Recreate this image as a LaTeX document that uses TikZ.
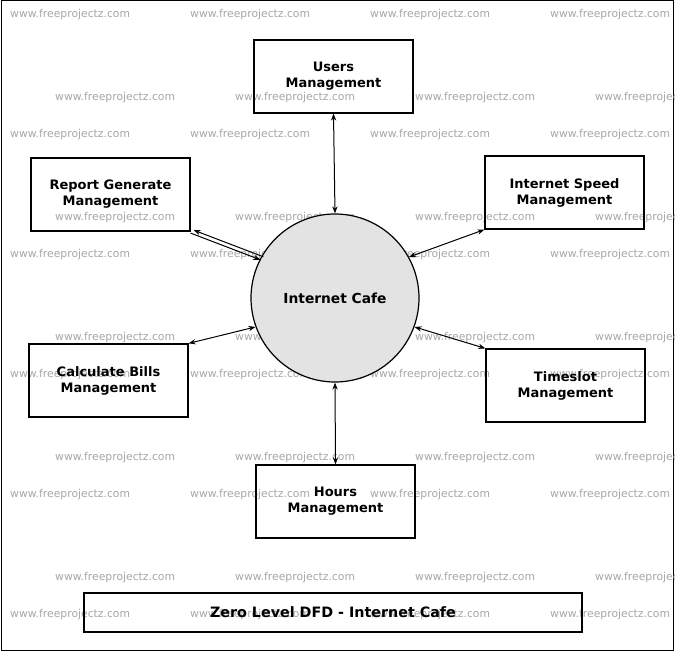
\documentclass[tikz,border=0pt]{standalone}
\usepackage{fontspec}
\setmainfont{DejaVu Sans}
\usetikzlibrary{arrows.meta}
\begin{document}
\begin{tikzpicture}[x=1pt,y=-1pt,
 box/.style={draw,line width=1.2pt,minimum width=159pt,minimum height=73pt,align=center,font=\bfseries\fontsize{13}{16}\selectfont},
 wm/.style={anchor=west,text=black!35,font=\fontsize{10.8}{12}\selectfont,inner sep=0pt},
 link/.style={line width=1pt,{Stealth[length=7pt]}-{Stealth[length=7pt]}}]
\useasboundingbox (0,0) rectangle (675,652);
\draw[line width=1pt] (1,1) rectangle (673,650);
\foreach \y in {15,135,255,375,495,615}{\foreach \x in {10,190,370,550}{\node[wm] at (\x,\y) {www.freeprojectz.com};}}
\foreach \y in {98,218,338,458,578}{\foreach \x in {55,235,415,595}{\node[wm] at (\x,\y) {www.freeprojectz.com};}}
\node[box] (users) at (333.5,76.5) {Users\\Management};
\node[box] (report) at (110.5,194.5) {Report Generate\\Management};
\node[box] (speed) at (564.5,192.5) {Internet Speed\\Management};
\node[box] (bills) at (108.5,380.5) {Calculate Bills\\Management};
\node[box] (slot) at (565.5,385.5) {Timeslot\\Management};
\node[box] (hours) at (335.5,501.5) {Hours\\Management};
\node[circle,draw,line width=1.2pt,fill=black!11,minimum size=168pt,inner sep=0pt,font=\bfseries\fontsize{13.8}{16}\selectfont] (cafe) at (335,298) {Internet Cafe};
\node[draw,line width=1.2pt,minimum width=498pt,minimum height=39pt,font=\bfseries\fontsize{14.3}{16}\selectfont] (title) at (333,612.5) {Zero Level DFD - Internet Cafe};
\draw[link] (users.south) -- (cafe.north);
\draw[link] (hours.north) -- (cafe.south);
\draw[line width=1pt,-{Stealth[length=7pt]}] ([yshift=-1.5pt]report.south east) -- ([yshift=-1.5pt]cafe.152);
\draw[line width=1pt,{Stealth[length=7pt]}-] ([xshift=3pt,yshift=1.5pt]report.south east) -- ([xshift=3pt,yshift=1.5pt]cafe.152);
\draw[link] (speed.south west) -- (cafe.29);
\draw[link] (bills.north east) -- (cafe.200);
\draw[link] (slot.north west) -- (cafe.-20);
\end{tikzpicture}
\end{document}
